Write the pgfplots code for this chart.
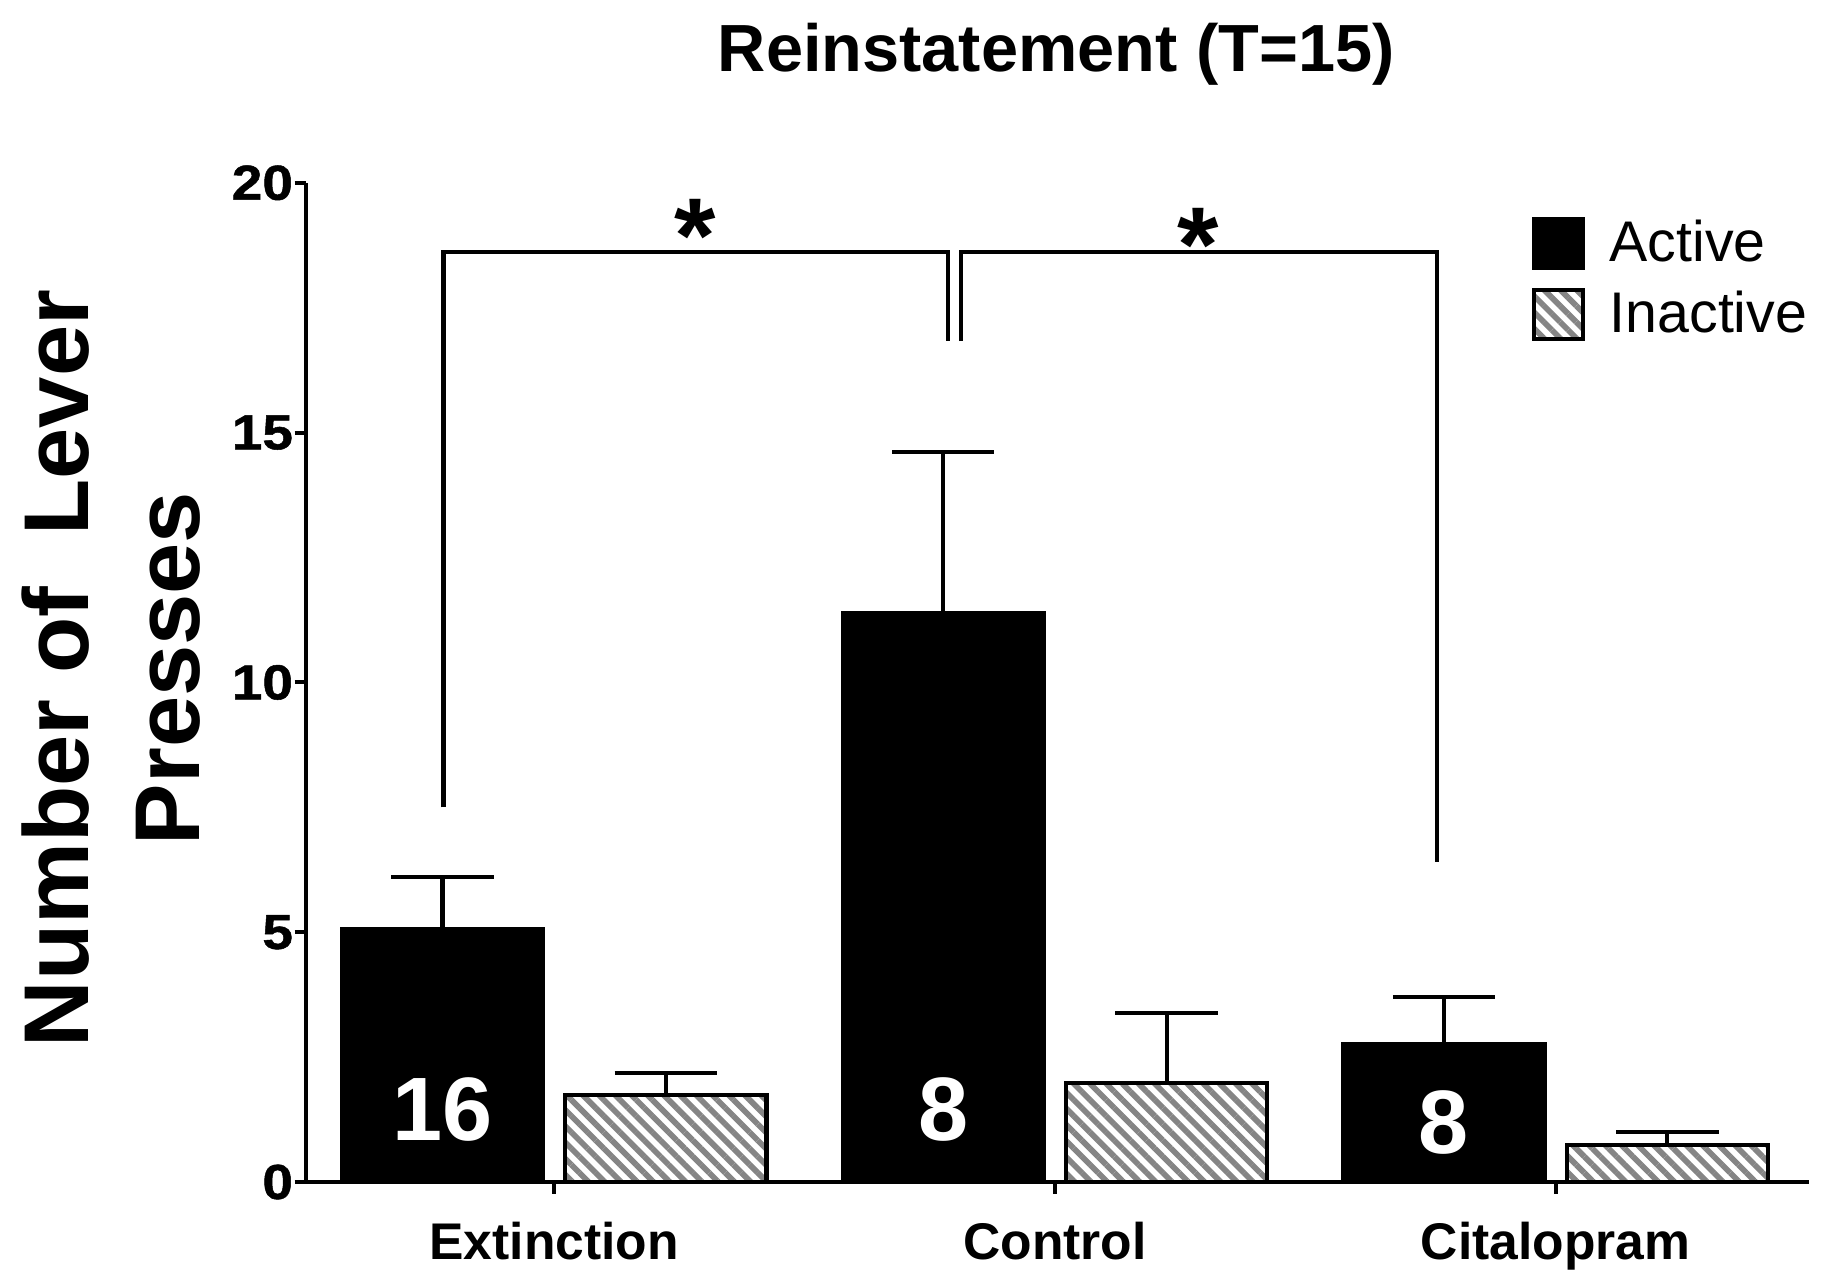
\documentclass[border=0pt]{standalone}
\usepackage{pgfplots}
\pgfplotsset{compat=1.18}
\usetikzlibrary{patterns.meta}
\usepackage{fontspec}
\setmainfont{Liberation Sans}
\newfontfamily\tickfont{Liberation Sans}[FakeStretch=1.12, FakeBold=1]
\definecolor{hatchgray}{gray}{0.52}
\pgfplotsset{sqlegend/.style={legend image code/.code={\draw[##1, line width=1pt] (0cm,-0.21cm) rectangle (0.42cm,0.21cm); \path (0.56cm,0);}}}

\begin{document}
\begin{tikzpicture}
\path[use as bounding box] (0,0) rectangle (15.68cm,10.94cm);
\begin{axis}[
  at={(2.63cm,0.79cm)}, anchor=south west,
  scale only axis, width=12.9cm, height=8.58cm,
  xmin=-0.495, xmax=2.505, ymin=0, ymax=20,
  axis x line*=bottom, axis y line*=left,
  axis line style={line width=1pt},
  tick align=outside, major tick length=0.1cm,
  tick style={line width=1pt, black},
  xtick={0,1,2}, xticklabels={Extinction,Control,Citalopram},
  ytick={0,5,10,15,20},
  /pgf/number format/assume math mode=true,
  yticklabel style={font=\tickfont\bfseries\fontsize{12}{12}\selectfont, inner sep=0.2pt},
  xticklabel style={font=\bfseries\fontsize{12.6}{12.6}\selectfont, yshift=-0.12cm},
  clip=false,
  legend style={at={(rel axis cs:0.8155,0.972)}, anchor=north west, draw=none, fill=none,
    inner sep=0pt, row sep=0.06cm, font=\fontsize{14}{14}\selectfont},
  legend cell align=left,
]
\addplot[ybar, bar width=0.402, bar shift=0, fill=black, draw=black, line width=1pt, sqlegend,
  error bars/.cd, y dir=plus, y explicit,
  error bar style={line width=1pt, black},
  error mark options={rotate=90, mark size=12.5pt, line width=1pt, black}]
  coordinates {(-0.223,5.06) +- (0,1.05) (0.777,11.39) +- (0,3.23) (1.777,2.76) +- (0,0.95)};
\addlegendentry{Active}
\addplot[ybar, bar width=0.402, bar shift=0, draw=black, line width=1pt,
  pattern={Lines[angle=-45,distance=2.8pt,line width=1.4pt]}, pattern color=hatchgray, sqlegend,
  error bars/.cd, y dir=plus, y explicit,
  error bar style={line width=1pt, black},
  error mark options={rotate=90, mark size=12.5pt, line width=1pt, black}]
  coordinates {(0.223,1.74) +- (0,0.44) (1.223,1.98) +- (0,1.40) (2.223,0.745) +- (0,0.255)};
\addlegendentry{Inactive}

\draw[line width=1pt, line join=miter] (axis cs:-0.221,7.5) |- (axis cs:0.786,18.62) -- (axis cs:0.786,16.83);
\draw[line width=1pt, line join=miter] (axis cs:0.812,16.83) |- (axis cs:1.763,18.62) -- (axis cs:1.763,6.41);
\node[font=\bfseries\fontsize{26}{26}\selectfont, anchor=north, inner sep=0pt] at (axis cs:0.281,19.68) {*};
\node[font=\bfseries\fontsize{26}{26}\selectfont, anchor=north, inner sep=0pt] at (axis cs:1.286,19.5) {*};
\node[text=white, font=\bfseries\fontsize{22}{22}\selectfont] at (axis cs:-0.223,1.45) {16};
\node[text=white, font=\bfseries\fontsize{22}{22}\selectfont] at (axis cs:0.777,1.45) {8};
\node[text=white, font=\bfseries\fontsize{22}{22}\selectfont] at (axis cs:1.777,1.2) {8};
\end{axis}
\node[anchor=base, font=\bfseries\fontsize{16.3}{16.3}\selectfont] at (9.07cm,10.33cm) {Reinstatement (T=15)};
\node[rotate=90, anchor=base, font=\bfseries\fontsize{22.5}{22.5}\selectfont] at (0.76cm,5.2cm) {Number of~~Lever};
\node[rotate=90, anchor=base, font=\bfseries\fontsize{22.5}{22.5}\selectfont] at (1.71cm,5.2cm) {Presses};
\end{tikzpicture}
\end{document}
